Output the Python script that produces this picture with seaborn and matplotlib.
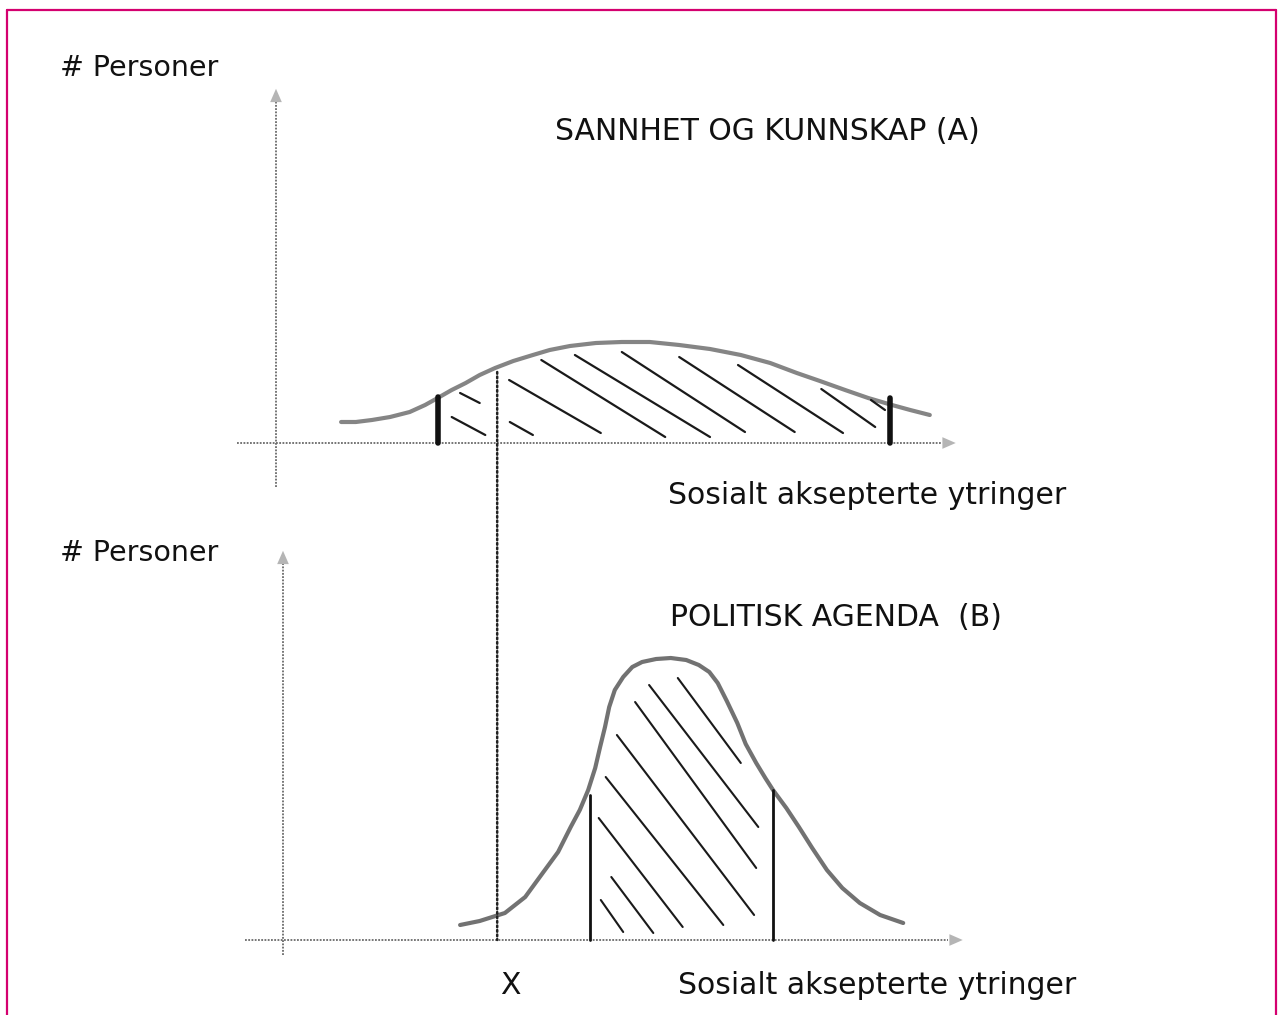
"""
Hand-drawn style sketch: distribution of socially accepted statements,
truth & knowledge (A) vs. political agenda (B).
"""

import matplotlib.pyplot as plt
import seaborn as sns
from matplotlib.lines import Line2D
from matplotlib.patches import ConnectionPatch

sns.set_theme(style="white")
plt.rcParams["font.family"] = ["DejaVu Sans"]

W, H = 1279, 1015

# --- data -----------------------------------------------------------------
# (A) truth and knowledge: wide, flat curve
a_x = [0.93, 1.14, 1.37, 1.63, 1.91, 2.13, 2.31, 2.51, 2.71, 2.91, 3.13, 3.39, 3.67, 3.91,
       4.20, 4.57, 4.94, 5.34, 5.76, 6.20, 6.64, 7.06, 7.44, 7.77, 8.13, 8.46, 8.80, 9.06, 9.34]
a_y = [2.1, 2.1, 2.3, 2.6, 3.1, 3.8, 4.5, 5.3, 6.0, 6.8, 7.5, 8.2, 8.8, 9.3,
       9.7, 10.0, 10.1, 10.1, 9.8, 9.4, 8.8, 8.0, 7.0, 6.2, 5.3, 4.5, 3.8, 3.3, 2.8]
a_bounds_x = [2.31, 8.77]
a_bounds_y = [4.6, 4.5]
a_hatch = [
    ((2.63, 5.0), (2.91, 4.0)),
    ((2.51, 2.6), (2.99, 0.8)),
    ((3.33, 6.3), (4.64, 1.0)),
    ((3.34, 2.1), (3.67, 0.8)),
    ((3.79, 8.3), (5.56, 0.6)),
    ((4.27, 8.8), (6.20, 0.6)),
    ((4.94, 9.1), (6.70, 1.1)),
    ((5.76, 8.6), (7.41, 1.1)),
    ((6.60, 7.8), (8.10, 1.0)),
    ((7.79, 5.4), (8.56, 1.6)),
    ((8.50, 4.3), (8.70, 3.3)),
]

# (B) political agenda: narrow, tall curve
b_x = [2.53, 2.81, 3.17, 3.46, 3.71, 3.93, 4.11, 4.24, 4.36, 4.46, 4.53, 4.60, 4.66, 4.74,
       4.86, 4.99, 5.13, 5.33, 5.54, 5.76, 5.94, 6.09, 6.21, 6.34, 6.49, 6.61, 6.76, 6.89,
       7.00, 7.19, 7.37, 7.56, 7.77, 7.99, 8.24, 8.53, 8.86]
b_y = [1.5, 1.9, 2.7, 4.3, 6.7, 8.8, 11.3, 13.0, 15.0, 17.2, 19.3, 21.3, 23.3, 25.0,
       26.3, 27.3, 27.8, 28.1, 28.2, 28.0, 27.5, 26.8, 25.7, 23.9, 21.7, 19.6, 17.7, 16.2,
       15.0, 13.2, 11.3, 9.2, 7.0, 5.2, 3.7, 2.5, 1.7]
b_bounds_x = [4.39, 7.00]
b_bounds_y = [14.5, 15.0]
b_hatch = [
    ((4.54, 4.0), (4.86, 0.8)),
    ((4.69, 6.3), (5.29, 0.7)),
    ((4.51, 12.2), (5.71, 1.3)),
    ((4.61, 16.3), (6.29, 1.5)),
    ((4.77, 20.5), (6.73, 2.5)),
    ((5.03, 23.8), (6.76, 7.2)),
    ((5.23, 25.5), (6.79, 11.3)),
    ((5.64, 26.2), (6.54, 17.7)),
]

# threshold X, shown as dotted line from curve A down to axis B
x_mark_top = 3.16
x_mark_bottom = 3.06

y_label = "# Personer"
x_label = "Sosialt aksepterte ytringer"
title_a = "SANNHET OG KUNNSKAP (A)"
title_b = "POLITISK AGENDA  (B)"

# --- figure ----------------------------------------------------------------
fig = plt.figure(figsize=(W / 100, H / 100), dpi=100)


def px_axes(left, top, right, bottom):
    return fig.add_axes([left / W, 1 - bottom / H, (right - left) / W, (bottom - top) / H])


ax1 = px_axes(206, 63, 1046, 503)
ax1.set_xlim(-1, 11)
ax1.set_ylim(-6, 38)
ax2 = px_axes(213, 540, 1053, 1000)
ax2.set_xlim(-1, 11)
ax2.set_ylim(-6, 40)

axis_kw = dict(color="#6a6a6a", lw=1.3, linestyle=(0, (1, 0.8)))
arrow_kw = dict(arrowstyle="-|>,head_length=0.8,head_width=0.35", color="#b5b5b5", lw=0)


def draw_axes(ax, x0, x1, y0, y1):
    ax.plot([x0, x1], [0, 0], **axis_kw)
    ax.plot([0, 0], [y0, y1], **axis_kw)
    ax.annotate("", xy=(x1 + 0.25, 0), xytext=(x1 - 0.05, 0), arrowprops=arrow_kw)
    ax.annotate("", xy=(0, y1 + 1.2), xytext=(0, y1 - 0.2), arrowprops=arrow_kw)


draw_axes(ax1, -0.56, 9.5, -4.4, 34.5)
draw_axes(ax2, -0.54, 9.5, -1.5, 38.0)

# curves
sns.lineplot(x=a_x, y=a_y, ax=ax1, sort=False, estimator=None, color="#858585", lw=3)
sns.lineplot(x=b_x, y=b_y, ax=ax2, sort=False, estimator=None, color="#727272", lw=3)

# hatching
for (xs, ys), (xe, ye) in a_hatch:
    ax1.plot([xs, xe], [ys, ye], color="#1a1a1a", lw=1.6)
for (xs, ys), (xe, ye) in b_hatch:
    ax2.plot([xs, xe], [ys, ye], color="#1a1a1a", lw=1.5)

# boundaries of the accepted region
for bx, by in zip(a_bounds_x, a_bounds_y):
    ax1.plot([bx, bx], [0, by], color="#111111", lw=4, solid_capstyle="round")
for bx, by in zip(b_bounds_x, b_bounds_y):
    ax2.plot([bx, bx], [0, by], color="#111111", lw=2)

# dotted X line linking both panels
con = ConnectionPatch(xyA=(x_mark_top, 7.1), coordsA=ax1.transData,
                      xyB=(x_mark_bottom, 0), coordsB=ax2.transData,
                      color="#222222", lw=1.8, linestyle=(0, (0.7, 1.1)))
fig.add_artist(con)

for ax in (ax1, ax2):
    ax.set_axis_off()


# --- text --------------------------------------------------------------------
def ftext(x, y, s, **kw):
    fig.text(x / W, 1 - y / H, s, va="center", color="#111111", **kw)


ftext(60, 68, y_label, fontsize=20.5)
ftext(60, 553, y_label, fontsize=20.5)
ftext(555, 131, title_a, fontsize=21.5)
ftext(668, 495, x_label, fontsize=21.5)
ftext(670, 617, title_b, fontsize=21.5)
ftext(510, 985, "X", fontsize=21.5, ha="center")
ftext(678, 985, x_label, fontsize=21.5)

# magenta frame (left, top, right)
frame_kw = dict(color="#d4006f", lw=1.6, transform=fig.transFigure)
fig.add_artist(Line2D([7 / W, 7 / W], [0, 1 - 10 / H], **frame_kw))
fig.add_artist(Line2D([7 / W, 1276 / W], [1 - 10 / H, 1 - 10 / H], **frame_kw))
fig.add_artist(Line2D([1276 / W, 1276 / W], [0, 1 - 10 / H], **frame_kw))

fig.savefig("out.png", dpi=100)
